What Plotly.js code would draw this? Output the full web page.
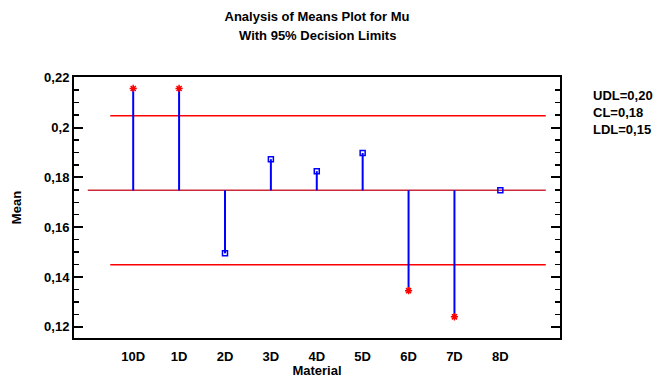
<!DOCTYPE html>
<html>
<head>
<meta charset="utf-8">
<script src="https://cdn.plot.ly/plotly-3.0.1.min.js"></script>
<style>html,body{margin:0;padding:0;background:#fff;}#chart{width:665px;height:378px;}</style>
</head>
<body>
<div id="chart"></div>
<script>
// Data
const categories = ['10D','1D','2D','3D','4D','5D','6D','7D','8D'];
const means = [0.2157, 0.2157, 0.1495, 0.1873, 0.1825, 0.1898, 0.1345, 0.1240, 0.1748];
const centerLine = 0.1748;
const upperLimit = 0.2047;
const lowerLimit = 0.1449;
const limitLabels = ['UDL=0,20', 'CL=0,18', 'LDL=0,15'];
const titleLines = ['Analysis of Means Plot for Mu', 'With 95% Decision Limits'];
const yTickValues = [0.12, 0.14, 0.16, 0.18, 0.2, 0.22];

const idx = categories.map((c, i) => i);
const outside = means.map(v => v > upperLimit || v < lowerLimit);

// stems from CL to each mean
const stemX = [], stemY = [];
idx.forEach(i => { stemX.push(i, i, null); stemY.push(centerLine, means[i], null); });

const traces = [
  {x: [-0.5, 8.99], y: [upperLimit, upperLimit], mode: 'lines', line: {color: '#ff0000', width: 1.5}, hoverinfo: 'skip'},
  {x: [-0.99, 8.99], y: [centerLine, centerLine], mode: 'lines', line: {color: '#cc2a3a', width: 1.5}, hoverinfo: 'skip'},
  {x: [-0.5, 8.99], y: [lowerLimit, lowerLimit], mode: 'lines', line: {color: '#ff0000', width: 1.5}, hoverinfo: 'skip'},
  {x: stemX, y: stemY, mode: 'lines', line: {color: '#0000ff', width: 2}, connectgaps: false, hoverinfo: 'skip'},
  {x: idx.filter(i => !outside[i]), y: idx.filter(i => !outside[i]).map(i => means[i]), mode: 'markers',
   marker: {symbol: 'square-open', size: 5, color: '#0000ff', line: {width: 1.5, color: '#0000ff'}}},
  {x: idx.filter(i => outside[i]), y: idx.filter(i => outside[i]).map(i => means[i]), mode: 'markers',
   marker: {symbol: 'asterisk-open', size: 6, color: '#ff0000', line: {width: 1.5, color: '#ff0000'}}}
];

const fam = 'Liberation Sans, Arial, sans-serif';
const font = {family: fam, size: 13, color: '#000', weight: 700};

const layout = {
  width: 665, height: 378,
  margin: {l: 74, r: 105, t: 77, b: 40},
  paper_bgcolor: '#fff', plot_bgcolor: '#fff',
  showlegend: false,
  separators: ',.',
  font: font,
  title: {text: titleLines[0], x: 317 / 665, xanchor: 'center', y: 1 - 16 / 378, yanchor: 'middle', font: font},
  xaxis: {
    range: [-1.29, 9.3], tickmode: 'array', tickvals: idx, ticktext: categories,
    showgrid: false, zeroline: false, showline: true, linecolor: '#000', linewidth: 2, mirror: true,
    ticks: '', ticklabelstandoff: 5,
    title: {text: 'Material', font: font, standoff: 2}
  },
  yaxis: {
    range: [0.1155, 0.2203], tickmode: 'array', tickvals: yTickValues,
    showgrid: false, zeroline: false, showline: true, linecolor: '#000', linewidth: 2, mirror: 'ticks',
    ticks: 'inside', ticklen: 9, tickwidth: 2, tickcolor: '#000',
    minor: {dtick: 0.005, ticks: 'inside', ticklen: 5, tickwidth: 1.5, tickcolor: '#000', showgrid: false},
    title: {text: 'Mean', font: font, standoff: 20}
  },
  annotations: [
    {xref: 'paper', yref: 'paper', x: 0.5, y: 1 + 41 / 260, xanchor: 'center', yanchor: 'middle',
     showarrow: false, text: titleLines[1], font: font},
    {xref: 'paper', yref: 'paper', x: 1.063, y: 0.965, xanchor: 'left', yanchor: 'top', align: 'left',
     showarrow: false, text: limitLabels.join('<br>'), font: font}
  ]
};

Plotly.newPlot('chart', traces, layout, {staticPlot: true, displayModeBar: false});
</script>
</body>
</html>
